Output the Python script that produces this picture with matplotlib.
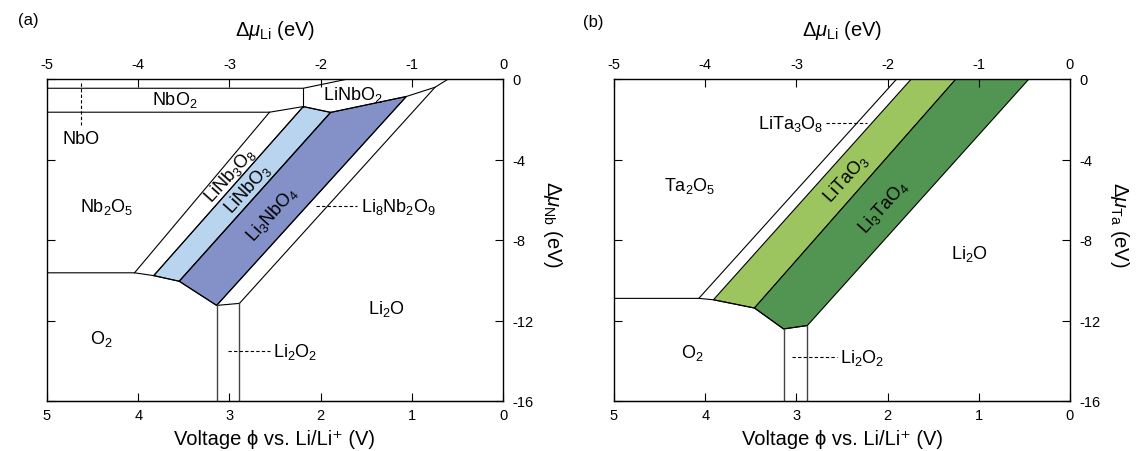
import matplotlib
matplotlib.use('Agg')
import matplotlib.pyplot as plt
from matplotlib.patches import Polygon

plt.rcParams['font.family'] = ['Liberation Sans', 'DejaVu Sans']
plt.rcParams['mathtext.fontset'] = 'custom'
plt.rcParams['mathtext.rm'] = 'Liberation Sans'
plt.rcParams['mathtext.it'] = 'Liberation Sans:italic'
plt.rcParams['mathtext.bf'] = 'Liberation Sans:bold'
plt.rcParams['axes.unicode_minus'] = False

# ---------------- data ----------------
top_ticks = [-5, -4, -3, -2, -1, 0]
top_ticklabels = ['-5', '-4', '-3', '-2', '-1', '0']
volt_ticklabels = ['5', '4', '3', '2', '1', '0']
y_ticks = [0, -4, -8, -12, -16]
y_ticklabels = ['0', '-4', '-8', '-12', '-16']

# Panel (a): Li-Nb-O  (x = dmu_Li, y = dmu_Nb)
a_nbo_x = [-5.0, -2.19, -1.70]
a_nbo_y = [-0.46, -0.46, 0.0]
a_nbo2_bot_x = [-5.0, -2.56, -2.19]
a_nbo2_bot_y = [-1.65, -1.65, -1.37]
a_nbo2_right_x = [-2.19, -2.19]
a_nbo2_right_y = [-0.46, -1.37]
a_linbo2_bot_x = [-2.19, -1.89, -1.06, -0.745, -0.60]
a_linbo2_bot_y = [-1.37, -1.66, -0.87, -0.41, 0.0]
a_diag_top_x = [-2.56, -2.19, -1.89, -1.06, -0.745]
a_diag_top_y = [-1.65, -1.37, -1.66, -0.87, -0.41]
a_o2_x = [-5.0, -4.04, -3.83, -3.55, -3.14, -2.89]
a_o2_y = [-9.63, -9.63, -9.77, -10.05, -11.25, -11.15]
a_li2o2_x = [-3.14, -2.89]

# Panel (b): Li-Ta-O  (x = dmu_Li, y = dmu_Ta)
b_diag_top_x = [-1.90, -1.74, -1.25, -0.45]
b_o2_x = [-5.0, -4.07, -3.91, -3.46, -3.14, -2.88]
b_o2_y = [-10.90, -10.90, -10.97, -11.38, -12.42, -12.25]
b_li2o2_x = [-3.14, -2.88]

col_linbo3 = '#b9d4ee'
col_li3nbo4 = '#8391c8'
col_litao3 = '#9cc55f'
col_li3tao4 = '#529552'

LW = 0.8
FS_LAB = 13
FS_AX = 14.5
FS_TICK = 10.5

fig = plt.figure(figsize=(11.36, 4.52), dpi=100)
axA = fig.add_axes([47/1136, 1-402/452, 456/1136, 322/452])
axB = fig.add_axes([614/1136, 1-402/452, 456/1136, 322/452])


def setup(ax, elem):
    ax.set_xlim(-5, 0)
    ax.set_ylim(-16, 0)
    ax.xaxis.tick_top()
    ax.set_xticks(top_ticks)
    ax.set_xticklabels(top_ticklabels)
    ax.yaxis.tick_right()
    ax.set_yticks(y_ticks)
    ax.set_yticklabels(y_ticklabels)
    ax.tick_params(axis='x', direction='in', length=6, width=0.8, top=True,
                   bottom=False, labelsize=FS_TICK, pad=6)
    ax.tick_params(axis='y', direction='in', length=6, width=0.8, left=True,
                   right=True, labelsize=FS_TICK, pad=7)
    for s in ax.spines.values():
        s.set_linewidth(1.0)
    sec = ax.secondary_xaxis('bottom', functions=(lambda v: -v, lambda v: -v))
    sec.set_xticks([5, 4, 3, 2, 1, 0])
    sec.set_xticklabels(volt_ticklabels)
    sec.tick_params(direction='in', length=6, width=0.8, labelsize=FS_TICK, pad=5)
    ax.text(0.5, 1.155, r'$\Delta\mathit{\mu}_{\rm Li}$ (eV)', transform=ax.transAxes,
            ha='center', va='center', fontsize=FS_AX)
    ax.text(0.5, -0.118, 'Voltage \u03d5 vs. Li/Li\u207a (V)', transform=ax.transAxes,
            ha='center', va='center', fontsize=FS_AX)
    ax.text(1.108, 0.55, r'$\Delta\mathit{\mu}_{\rm %s}$ (eV)' % elem, transform=ax.transAxes,
            ha='center', va='center', fontsize=FS_AX, rotation=270)


setup(axA, 'Nb')
setup(axB, 'Ta')

# ---------- panel (a) ----------
ax = axA
P = list(zip(a_diag_top_x, a_diag_top_y))
Q = list(zip(a_o2_x[1:], a_o2_y[1:]))
ax.add_patch(Polygon([P[1], P[2], Q[2], Q[1]], closed=True, facecolor=col_linbo3,
                     edgecolor='black', lw=LW))
ax.add_patch(Polygon([P[2], P[3], Q[3], Q[2]], closed=True, facecolor=col_li3nbo4,
                     edgecolor='black', lw=LW))
kw = dict(color='black', lw=LW, solid_joinstyle='miter')
ax.plot(a_nbo_x, a_nbo_y, **kw)
ax.plot(a_nbo2_bot_x, a_nbo2_bot_y, **kw)
ax.plot(a_nbo2_right_x, a_nbo2_right_y, **kw)
ax.plot(a_linbo2_bot_x, a_linbo2_bot_y, **kw)
for (x0, y0), (x1, y1) in zip(P, Q):
    ax.plot([x0, x1], [y0, y1], **kw)
ax.plot(a_o2_x, a_o2_y, **kw)
for x, y in zip(a_li2o2_x, a_o2_y[-2:]):
    ax.plot([x, x], [y, -16], color='#444444', lw=1.0)
# labels
ax.plot([-4.63, -4.63], [-0.2, -2.3], color='black', lw=0.8, ls=(0, (3, 2)))
ax.text(-4.63, -2.95, 'NbO', ha='center', va='center', fontsize=FS_LAB)
ax.text(-3.6, -1.0, r'NbO$_2$', ha='center', va='center', fontsize=FS_LAB)
ax.text(-1.65, -0.75, r'LiNbO$_2$', ha='center', va='center', fontsize=FS_LAB)
ax.text(-4.35, -6.3, r'Nb$_2$O$_5$', ha='center', va='center', fontsize=FS_LAB)
ax.plot([-2.05, -1.60], [-6.3, -6.3], color='black', lw=0.8, ls=(0, (3, 2)))
ax.text(-1.56, -6.3, r'Li$_8$Nb$_2$O$_9$', ha='left', va='center', fontsize=FS_LAB)
ax.text(-1.28, -11.4, r'Li$_2$O', ha='center', va='center', fontsize=FS_LAB)
ax.text(-4.4, -12.85, r'O$_2$', ha='center', va='center', fontsize=FS_LAB)
ax.plot([-3.01, -2.56], [-13.5, -13.5], color='black', lw=0.8, ls=(0, (3, 2)))
ax.text(-2.52, -13.5, r'Li$_2$O$_2$', ha='left', va='center', fontsize=FS_LAB)
rot = 48
ax.text(-2.99, -4.75, r'LiNb$_3$O$_8$', ha='center', va='center', fontsize=FS_LAB,
        rotation=rot, rotation_mode='anchor')
ax.text(-2.80, -5.4, r'LiNbO$_3$', ha='center', va='center', fontsize=FS_LAB,
        rotation=rot, rotation_mode='anchor')
ax.text(-2.53, -6.65, r'Li$_3$NbO$_4$', ha='center', va='center', fontsize=FS_LAB,
        rotation=rot, rotation_mode='anchor')

# ---------- panel (b) ----------
ax = axB
T = [(x, 0.0) for x in b_diag_top_x]
R = list(zip(b_o2_x[1:], b_o2_y[1:]))
ax.add_patch(Polygon([T[1], T[2], R[2], R[1]], closed=True, facecolor=col_litao3,
                     edgecolor='black', lw=LW))
ax.add_patch(Polygon([T[2], T[3], R[4], R[3], R[2]], closed=True, facecolor=col_li3tao4,
                     edgecolor='black', lw=LW))
ax.plot([T[0][0], R[0][0]], [T[0][1], R[0][1]], **kw)
ax.plot(b_o2_x, b_o2_y, **kw)
for x, y in zip(b_li2o2_x, b_o2_y[-2:]):
    ax.plot([x, x], [y, -16], color='#444444', lw=1.0)
ax.plot([-2.67, -2.23], [-2.2, -2.2], color='black', lw=0.8, ls=(0, (3, 2)))
ax.text(-2.70, -2.2, r'LiTa$_3$O$_8$', ha='right', va='center', fontsize=FS_LAB)
ax.text(-4.17, -5.25, r'Ta$_2$O$_5$', ha='center', va='center', fontsize=FS_LAB)
ax.text(-1.10, -8.65, r'Li$_2$O', ha='center', va='center', fontsize=FS_LAB)
ax.text(-4.14, -13.55, r'O$_2$', ha='center', va='center', fontsize=FS_LAB)
ax.plot([-3.05, -2.56], [-13.8, -13.8], color='black', lw=0.8, ls=(0, (3, 2)))
ax.text(-2.52, -13.8, r'Li$_2$O$_2$', ha='left', va='center', fontsize=FS_LAB)
ax.text(-2.46, -4.9, r'LiTaO$_3$', ha='center', va='center', fontsize=FS_LAB,
        rotation=rot, rotation_mode='anchor')
ax.text(-2.05, -6.3, r'Li$_3$TaO$_4$', ha='center', va='center', fontsize=FS_LAB,
        rotation=rot, rotation_mode='anchor')

fig.text(18/1136, 1-20/452, '(a)', ha='left', va='center', fontsize=12)
fig.text(583/1136, 1-22/452, '(b)', ha='left', va='center', fontsize=12)

fig.savefig('out.png', dpi=100)
